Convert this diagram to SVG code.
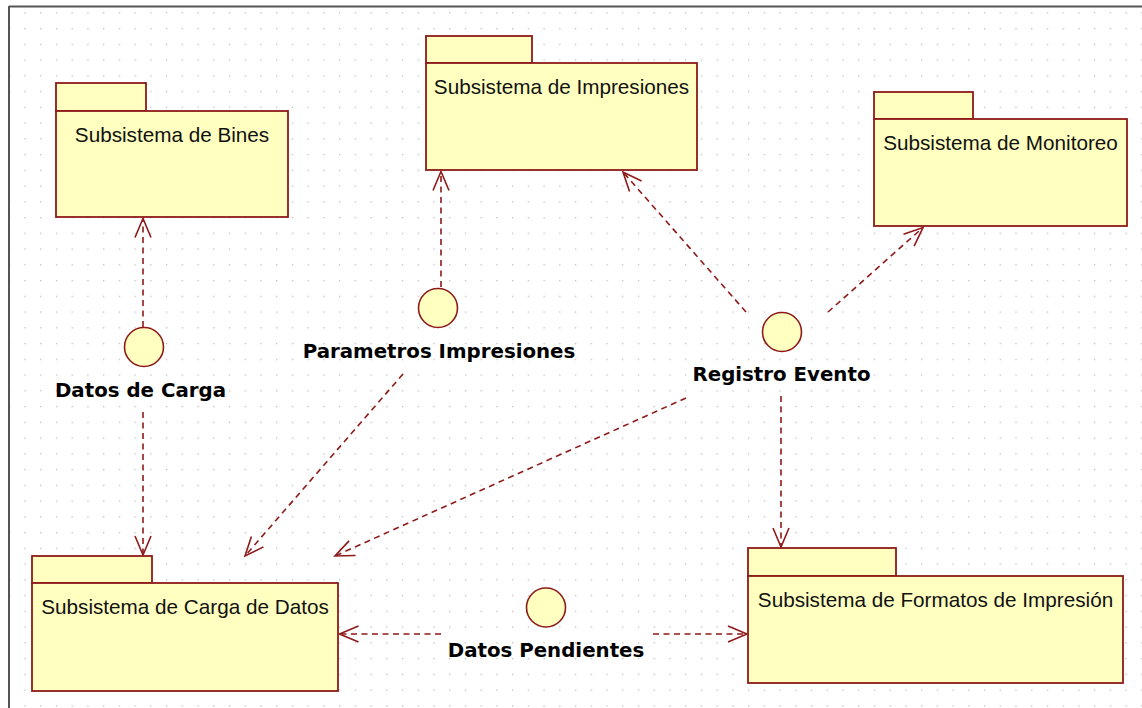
<svg xmlns="http://www.w3.org/2000/svg" width="1142" height="708" viewBox="0 0 1142 708">
  <style>
    .pkg { fill: #FFFFC0; stroke: #8E1A1A; stroke-width: 1.8; }
    .iface { fill: #FFFFC0; stroke: #8E1A1A; stroke-width: 1.6; }
    .pkg-label { font-family: "Liberation Sans", Arial, sans-serif; font-size: 20.7px; fill: #111; text-anchor: middle; }
    .iface-label { font-family: "DejaVu Sans", Verdana, sans-serif; font-size: 19.8px; font-weight: bold; fill: #000; text-anchor: middle; }
    .dep { fill: none; stroke: #8E1A1A; stroke-width: 1.6; stroke-dasharray: 6 4.5; marker-end: url(#open-arrow); }
  </style>
  <defs>
    <pattern id="grid" patternUnits="userSpaceOnUse" x="24.4" y="12.2" width="15.73" height="15.75">
      <rect x="0" y="0" width="1.3" height="1.3" fill="#BDBDBD"/>
    </pattern>
    <marker id="open-arrow" markerUnits="userSpaceOnUse" viewBox="-22 -10 24 20" refX="0" refY="0" markerWidth="24" markerHeight="20" orient="auto">
      <path d="M -19 -8 L 0 0 L -19 8" fill="none" stroke="#8E1A1A" stroke-width="1.6"/>
    </marker>
  </defs>

  <!-- canvas -->
  <rect x="0" y="0" width="1142" height="708" fill="#FFFFFF"/>
  <rect x="10" y="7.5" width="1132" height="701" fill="url(#grid)"/>
  <line x1="9" y1="6.5" x2="1142" y2="6.5" stroke="#555" stroke-width="2"/>
  <line x1="9" y1="6" x2="9" y2="708" stroke="#555" stroke-width="2"/>

  <!-- dependencies -->
  <g id="connectors">
    <line class="dep" x1="143" y1="327" x2="143" y2="218.5"/>
    <line class="dep" x1="143" y1="412" x2="143" y2="555"/>
    <line class="dep" x1="441" y1="287" x2="441" y2="171.5"/>
    <line class="dep" x1="403" y1="374" x2="245" y2="556"/>
    <line class="dep" x1="746" y1="312" x2="623" y2="172"/>
    <line class="dep" x1="828" y1="312" x2="923" y2="227.5"/>
    <line class="dep" x1="686" y1="398" x2="335" y2="556"/>
    <line class="dep" x1="781" y1="396" x2="781" y2="547"/>
    <line class="dep" x1="441" y1="634" x2="339.5" y2="634"/>
    <line class="dep" x1="653" y1="634" x2="747" y2="634"/>
  </g>

  <!-- packages -->
  <g id="pkg-bines">
    <rect class="pkg" x="56" y="83" width="90" height="28"/>
    <rect class="pkg" x="56" y="111" width="232" height="106"/>
    <text class="pkg-label" x="172" y="142">Subsistema de Bines</text>
  </g>
  <g id="pkg-impresiones">
    <rect class="pkg" x="426" y="36" width="106" height="27"/>
    <rect class="pkg" x="426" y="63" width="271" height="107"/>
    <text class="pkg-label" x="561.5" y="94">Subsistema de Impresiones</text>
  </g>
  <g id="pkg-monitoreo">
    <rect class="pkg" x="874" y="92" width="99" height="27"/>
    <rect class="pkg" x="874" y="119" width="253" height="107"/>
    <text class="pkg-label" x="1000.5" y="150">Subsistema de Monitoreo</text>
  </g>
  <g id="pkg-carga-datos">
    <rect class="pkg" x="32" y="556" width="120" height="27"/>
    <rect class="pkg" x="32" y="583" width="306" height="108"/>
    <text class="pkg-label" x="185" y="614">Subsistema de Carga de Datos</text>
  </g>
  <g id="pkg-formatos">
    <rect class="pkg" x="748" y="548" width="148" height="28"/>
    <rect class="pkg" x="748" y="576" width="375" height="107"/>
    <text class="pkg-label" x="935.5" y="607">Subsistema de Formatos de Impresión</text>
  </g>

  <!-- interfaces -->
  <g id="if-datos-carga">
    <circle class="iface" cx="144" cy="347" r="19.5"/>
    <text class="iface-label" x="140.5" y="397">Datos de Carga</text>
  </g>
  <g id="if-parametros">
    <circle class="iface" cx="438" cy="308" r="19.5"/>
    <text class="iface-label" x="439" y="358">Parametros Impresiones</text>
  </g>
  <g id="if-registro">
    <circle class="iface" cx="782" cy="332" r="19.5"/>
    <text class="iface-label" x="781.5" y="381">Registro Evento</text>
  </g>
  <g id="if-datos-pendientes">
    <circle class="iface" cx="546" cy="607.5" r="19.5"/>
    <text class="iface-label" x="546" y="657">Datos Pendientes</text>
  </g>
</svg>
